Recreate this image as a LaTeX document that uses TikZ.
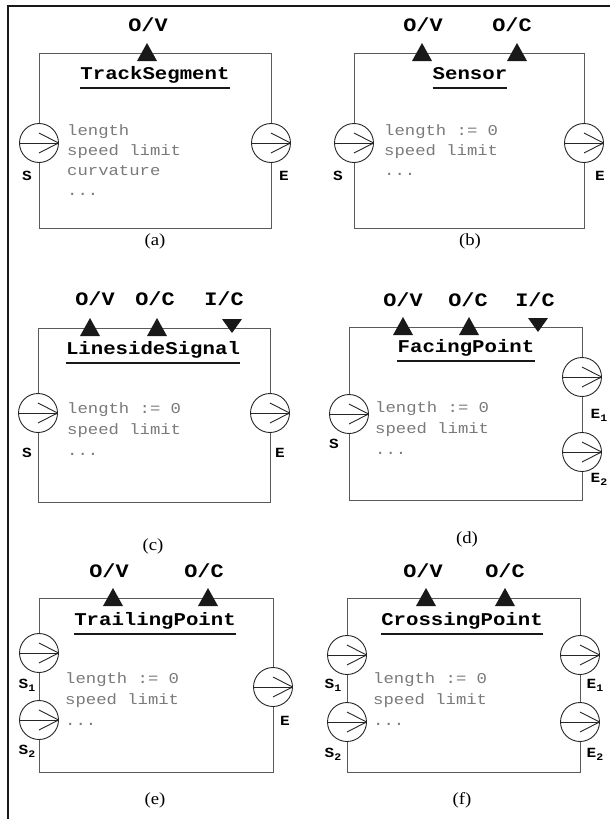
\documentclass[tikz,border=0pt]{standalone}
\usepackage{fontspec}
\newfontfamily\cour[FakeStretch=1.15]{Liberation Mono}
\newfontfamily\capfont[FakeStretch=1.1]{Liberation Serif}
\definecolor{attrgray}{HTML}{7A7A7A}
\definecolor{boxgray}{HTML}{5A5A5A}
\newcommand\subd[1]{\raisebox{-3pt}{\fontsize{10}{10}\selectfont #1}}
\begin{document}
\begin{tikzpicture}[x=1pt,y=-1pt,
  outerframe/.style={line width=2pt, draw=black!90},
  cbox/.style={draw=boxgray, line width=1pt, rectangle, inner sep=0pt},
  portc/.style={circle, draw=black!85, fill=white, minimum size=39pt, inner sep=0pt, line width=0.9pt,
    path picture={\draw[line width=0.9pt, black!85] (path picture bounding box.west) -- (path picture bounding box.east);
      \draw[line width=0.9pt, black!85] ([yshift=10pt]path picture bounding box.center) -- (path picture bounding box.east) -- ([yshift=-10pt]path picture bounding box.center);}},
  uptri/.pic={\fill[black!90] (-10,8) -- (10,8) -- (0,-10) -- cycle;},
  downtri/.pic={\fill[black!90] (-10,-9) -- (10,-9) -- (0,5) -- cycle;},
  ttl/.style={font=\cour\bfseries\fontsize{18}{20}\selectfont, inner sep=0pt, anchor=base, text depth=0pt},
  uline/.style={line width=1.8pt, draw=black!90},
  plab/.style={font=\cour\bfseries\fontsize{19}{20}\selectfont, inner sep=0pt, anchor=base},
  slab/.style={font=\cour\bfseries\fontsize{14}{16}\selectfont, inner sep=0pt, anchor=base},
  attr/.style={font=\cour\fontsize{15}{18}\selectfont, text=attrgray, inner sep=0pt, anchor=base west},
  capt/.style={font=\capfont\fontsize{17pt}{19pt}\selectfont, inner sep=0pt, anchor=base}
]
\useasboundingbox (0,0) rectangle (610,819);
\draw[outerframe] (8,819) -- (8,5.5) -- (610,5.5);

% ---------- (a) TrackSegment
\node[cbox, minimum width=232pt, minimum height=175pt] (a) at (155,140.5) {};
\pic (a-ov) at (147,53) {uptri};
\node[plab] (a-ovl) at (148,31) {O/V};
\node[ttl] (a-t) at (155,79) {TrackSegment};
\draw[uline] ([yshift=-9pt]a-t.base west) -- ([yshift=-9pt]a-t.base east);
\node[portc] (a-s) at (39,143) {};
\node[portc] (a-e) at (271,143) {};
\node[slab] (a-sl) at (27,180) {S};
\node[slab] (a-el) at (284,180) {E};
\node[attr] (a-1) at (67,135) {length};
\node[attr] (a-2) at (67,155) {speed limit};
\node[attr] (a-3) at (67,175) {curvature};
\node[attr] (a-4) at (67,195) {...};
\node[capt] (a-c) at (155,245) {(a)};

% ---------- (b) Sensor
\node[cbox, minimum width=230pt, minimum height=175pt] (b) at (469,140.5) {};
\pic (b-ov) at (422,53) {uptri};
\pic (b-oc) at (517,53) {uptri};
\node[plab] (b-ovl) at (423,31) {O/V};
\node[plab] (b-ocl) at (512,31) {O/C};
\node[ttl] (b-t) at (470,79) {Sensor};
\draw[uline] ([yshift=-9pt]b-t.base west) -- ([yshift=-9pt]b-t.base east);
\node[portc] (b-s) at (354,143) {};
\node[portc] (b-e) at (584,143) {};
\node[slab] (b-sl) at (338,180) {S};
\node[slab] (b-el) at (600,180) {E};
\node[attr] (b-1) at (384,135) {length := 0};
\node[attr] (b-2) at (384,155) {speed limit};
\node[attr] (b-3) at (384,175) {...};
\node[capt] (b-c) at (470,245) {(b)};

% ---------- (c) LinesideSignal
\node[cbox, minimum width=232pt, minimum height=174pt] (c) at (154,415) {};
\pic (c-ov) at (90,328) {uptri};
\pic (c-oc) at (157,328) {uptri};
\pic (c-ic) at (232,328) {downtri};
\node[plab] (c-ovl) at (95,305) {O/V};
\node[plab] (c-ocl) at (155,305) {O/C};
\node[plab] (c-icl) at (224,305) {I/C};
\node[ttl] (c-t) at (153,354) {LinesideSignal};
\draw[uline] ([yshift=-9pt]c-t.base west) -- ([yshift=-9pt]c-t.base east);
\node[portc] (c-s) at (38,413) {};
\node[portc] (c-e) at (270,413) {};
\node[slab] (c-sl) at (27,457) {S};
\node[slab] (c-el) at (280,457) {E};
\node[attr] (c-1) at (67,413) {length := 0};
\node[attr] (c-2) at (67,434) {speed limit};
\node[attr] (c-3) at (67,455) {...};
\node[capt] (c-c) at (153,550) {(c)};

% ---------- (d) FacingPoint
\node[cbox, minimum width=233pt, minimum height=173pt] (d) at (465.5,413.5) {};
\pic (d-ov) at (403,327) {uptri};
\pic (d-oc) at (469,327) {uptri};
\pic (d-ic) at (538,327) {downtri};
\node[plab] (d-ovl) at (403,306) {O/V};
\node[plab] (d-ocl) at (468,306) {O/C};
\node[plab] (d-icl) at (535,306) {I/C};
\node[ttl] (d-t) at (466,352) {FacingPoint};
\draw[uline] ([yshift=-9pt]d-t.base west) -- ([yshift=-9pt]d-t.base east);
\node[portc] (d-s) at (349,414) {};
\node[portc] (d-e1) at (582,377) {};
\node[portc] (d-e2) at (582,452) {};
\node[slab] (d-sl) at (334,448) {S};
\node[slab] (d-e1l) at (599,418) {E\subd{1}};
\node[slab] (d-e2l) at (599,482) {E\subd{2}};
\node[attr] (d-1) at (375,412) {length := 0};
\node[attr] (d-2) at (375,433) {speed limit};
\node[attr] (d-3) at (375,454) {...};
\node[capt] (d-c) at (467,543) {(d)};

% ---------- (e) TrailingPoint
\node[cbox, minimum width=234pt, minimum height=174pt] (e) at (156,685) {};
\pic (e-ov) at (113,598) {uptri};
\pic (e-oc) at (208,598) {uptri};
\node[plab] (e-ovl) at (109,577) {O/V};
\node[plab] (e-ocl) at (204,577) {O/C};
\node[ttl] (e-t) at (155,625) {TrailingPoint};
\draw[uline] ([yshift=-9pt]e-t.base west) -- ([yshift=-9pt]e-t.base east);
\node[portc] (e-s1) at (39,653) {};
\node[portc] (e-s2) at (39,720) {};
\node[portc] (e-e) at (273,687) {};
\node[slab] (e-s1l) at (27,688) {S\subd{1}};
\node[slab] (e-s2l) at (27,754) {S\subd{2}};
\node[slab] (e-el) at (285,725) {E};
\node[attr] (e-1) at (65,683) {length := 0};
\node[attr] (e-2) at (65,704) {speed limit};
\node[attr] (e-3) at (65,725) {...};
\node[capt] (e-c) at (155,804) {(e)};

% ---------- (f) CrossingPoint
\node[cbox, minimum width=233pt, minimum height=174pt] (f) at (463.5,685) {};
\pic (f-ov) at (426,598) {uptri};
\pic (f-oc) at (505,598) {uptri};
\node[plab] (f-ovl) at (423,577) {O/V};
\node[plab] (f-ocl) at (505,577) {O/C};
\node[ttl] (f-t) at (462,625) {CrossingPoint};
\draw[uline] ([yshift=-9pt]f-t.base west) -- ([yshift=-9pt]f-t.base east);
\node[portc] (f-s1) at (347,655) {};
\node[portc] (f-s2) at (347,722) {};
\node[portc] (f-e1) at (580,655) {};
\node[portc] (f-e2) at (580,722) {};
\node[slab] (f-s1l) at (333,688) {S\subd{1}};
\node[slab] (f-s2l) at (333,757) {S\subd{2}};
\node[slab] (f-e1l) at (595,688) {E\subd{1}};
\node[slab] (f-e2l) at (595,757) {E\subd{2}};
\node[attr] (f-1) at (373,683) {length := 0};
\node[attr] (f-2) at (373,704) {speed limit};
\node[attr] (f-3) at (373,725) {...};
\node[capt] (f-c) at (462,804) {(f)};
\end{tikzpicture}
\end{document}
